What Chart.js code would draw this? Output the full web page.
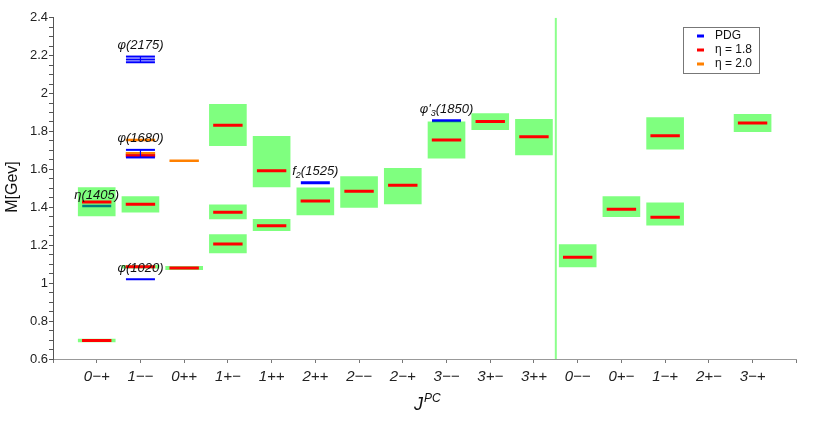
<!DOCTYPE html>
<html>
<head>
<meta charset="utf-8">
<script src="https://cdn.jsdelivr.net/npm/chart.js@4"></script>
<style>
  html, body { margin: 0; padding: 0; background: #fff; }
  #wrap { width: 814px; height: 425px; }
</style>
</head>
<body>
<div id="wrap"><canvas id="myChart"></canvas></div>
<script>
// J^PC channels, one per x position
const categories = ['0−+', '1−−', '0++', '1+−', '1++', '2++', '2−−', '2−+', '3−−', '3+−', '3++', '0−−', '0+−', '1−+', '2+−', '3−+'];
const separatorAt = 10.5;

// green uncertainty boxes (channel index, low, high)
const boxX    = [0, 0, 1, 1, 2, 3, 3, 3, 4, 4, 5, 6, 7, 8, 9, 10, 11, 12, 13, 13, 15];
const boxLow  = [1.355, 0.690, 1.374, 1.079, 1.071, 1.725, 1.339, 1.160, 1.508, 1.277, 1.360, 1.400, 1.418, 1.659, 1.809, 1.676, 1.085, 1.350, 1.706, 1.306, 1.799];
const boxHigh = [1.504, 0.705, 1.457, 1.094, 1.089, 1.943, 1.413, 1.256, 1.774, 1.336, 1.503, 1.562, 1.605, 1.851, 1.894, 1.864, 1.204, 1.456, 1.873, 1.423, 1.890];

// eta = 1.8 masses
const eta18X = [0, 0, 1, 1, 1, 2, 3, 3, 3, 4, 4, 5, 6, 7, 8, 9, 10, 11, 12, 13, 13, 15];
const eta18  = [1.428, 0.698, 1.416, 1.087, 1.672, 1.080, 1.833, 1.374, 1.207, 1.593, 1.303, 1.433, 1.485, 1.517, 1.755, 1.852, 1.772, 1.136, 1.390, 1.778, 1.348, 1.845];

// eta = 2.0 masses
const eta20X = [1, 1, 2];
const eta20  = [1.755, 1.685, 1.645];

// PDG states
const pdgX     = [0, 1, 1, 1, 5, 8];
const pdgMass  = [1.407, 1.021, 1.683, 2.180, 1.529, 1.856];
const pdgErr   = [0, 0, 0.020, 0.015, 0, 0];
const pdgNames = ['η(1405)', 'φ(1020)', 'φ(1680)', 'φ(2175)', 'f₂(1525)', "φ'₃(1850)"];

const FONT = "'Liberation Sans', Arial, sans-serif";
const BLUE = '#0000ff', RED = '#ff0000', ORANGE = '#ff8000';

const pts = (xs, ys) => xs.map((c, i) => ({x: c, y: ys[i]}));

const SUBS = '₀₁₂₃₄₅₆₇₈₉';
function richWidth(ctx, str) {
    let w = 0;
    for (const ch of str) {
        const k = SUBS.indexOf(ch);
        ctx.font = k >= 0 ? 'italic 9px ' + FONT : 'italic 13px ' + FONT;
        w += ctx.measureText(k >= 0 ? String(k) : ch).width;
    }
    return w;
}
function drawRich(ctx, str, cx, cy) {
    let px = cx - richWidth(ctx, str) / 2;
    ctx.textBaseline = 'middle';
    ctx.textAlign = 'left';
    for (const ch of str) {
        const k = SUBS.indexOf(ch);
        const t = k >= 0 ? String(k) : ch;
        ctx.font = k >= 0 ? 'italic 9px ' + FONT : 'italic 13px ' + FONT;
        ctx.fillText(t, px, k >= 0 ? cy + 4 : cy);
        px += ctx.measureText(t).width;
    }
}

const overlay = {
    id: 'overlay',
    afterDatasetsDraw(chart) {
        const {ctx, scales: {x, y}} = chart;
        ctx.save();
        // PDG error bars
        ctx.strokeStyle = BLUE;
        pdgX.forEach((c, i) => {
            const e = pdgErr[i];
            if (!e) return;
            const px = x.getPixelForValue(c);
            ctx.lineWidth = 1.2;
            ctx.beginPath();
            ctx.moveTo(px, y.getPixelForValue(pdgMass[i] - e));
            ctx.lineTo(px, y.getPixelForValue(pdgMass[i] + e));
            ctx.stroke();
            ctx.lineWidth = 2;
            [pdgMass[i] - e, pdgMass[i] + e].forEach(v => {
                const py = y.getPixelForValue(v);
                ctx.beginPath();
                ctx.moveTo(px - 14.5, py);
                ctx.lineTo(px + 14.5, py);
                ctx.stroke();
            });
        });
        // state names
        ctx.fillStyle = '#111';
        pdgX.forEach((c, i) => {
            drawRich(ctx, pdgNames[i], x.getPixelForValue(c), y.getPixelForValue(pdgMass[i] + pdgErr[i]) - 11);
        });
        ctx.restore();
    },
    afterDraw(chart) {
        const {ctx} = chart;
        ctx.save();
        // legend
        ctx.strokeStyle = '#777';
        ctx.lineWidth = 1;
        ctx.strokeRect(683.5, 27.5, 76, 46);
        const items = [['PDG', BLUE], ['η = 1.8', RED], ['η = 2.0', ORANGE]];
        ctx.font = '12px ' + FONT;
        ctx.textBaseline = 'middle';
        ctx.textAlign = 'left';
        items.forEach(([t, c], i) => {
            const ly = 36 + i * 14;
            ctx.fillStyle = c;
            ctx.fillRect(697, ly - 1.5, 7, 3);
            ctx.fillStyle = '#111';
            ctx.fillText(t, 715, ly);
        });
        // axis titles
        ctx.fillStyle = '#111';
        ctx.font = '16px ' + FONT;
        ctx.textAlign = 'center';
        ctx.translate(13, 187);
        ctx.rotate(-Math.PI / 2);
        ctx.fillText('M[Gev]', 0, 0);
        ctx.setTransform(1, 0, 0, 1, 0, 0);
        ctx.textAlign = 'left';
        ctx.textBaseline = 'alphabetic';
        ctx.font = 'italic 18px ' + FONT;
        ctx.fillText('J', 414, 410);
        ctx.font = 'italic 12px ' + FONT;
        ctx.fillText('PC', 424, 402);
        ctx.restore();
    }
};

const chart = new Chart(document.getElementById('myChart'), {
    type: 'scatter',
    data: {
        datasets: [
            {
                label: 'η = 1.8',
                data: pts(eta18X, eta18),
                pointStyle: 'line',
                pointRadius: 14.7,
                pointBorderWidth: 3,
                pointBorderColor: RED,
                order: 0
            },
            {
                label: 'η = 2.0',
                data: pts(eta20X, eta20),
                pointStyle: 'line',
                pointRadius: 14.7,
                pointBorderWidth: 2.5,
                pointBorderColor: ORANGE,
                order: 1
            },
            {
                type: 'bar',
                label: 'boxes',
                data: boxX.map((c, i) => ({x: c, y: [boxLow[i], boxHigh[i]]})),
                backgroundColor: 'rgba(0,255,0,0.5)',
                borderWidth: 0,
                barThickness: 37,
                order: 2
            },
            {
                label: 'PDG',
                data: pts(pdgX, pdgMass),
                pointStyle: 'line',
                pointRadius: 14.5,
                pointBorderWidth: [2.5, 2, 2, 2, 3, 3],
                pointBorderColor: BLUE,
                order: 3
            },
            {
                label: 'separator',
                data: [{x: separatorAt, y: 0.6}, {x: separatorAt, y: 2.4}],
                showLine: true,
                borderColor: 'rgba(0,255,0,0.45)',
                borderWidth: 2,
                pointRadius: 0,
                order: 4
            }
        ]
    },
    options: {
        responsive: true,
        maintainAspectRatio: false,
        animation: false,
        events: [],
        layout: {padding: {top: 11, right: 9, left: 0, bottom: 0}},
        plugins: {
            legend: {display: false},
            tooltip: {enabled: false}
        },
        scales: {
            x: {
                type: 'linear',
                min: -1,
                max: 16,
                offset: false,
                grid: {drawOnChartArea: false, tickLength: 4, color: '#777', offset: false},
                border: {color: '#999'},
                ticks: {
                    stepSize: 1,
                    maxTicksLimit: 100,
                    autoSkip: false,
                    maxRotation: 0,
                    padding: 5,
                    color: '#222',
                    font: {family: FONT, size: 15, style: 'italic'},
                    callback: v => categories[v] ?? ''
                },
                afterFit: s => { s.height = 66; }
            },
            y: {
                type: 'linear',
                min: 0.6,
                max: 2.4,
                grid: {drawOnChartArea: false, tickLength: 4, color: '#555'},
                border: {color: '#555'},
                ticks: {
                    stepSize: 0.05,
                    maxTicksLimit: 100,
                    autoSkip: false,
                    padding: 1,
                    color: '#222',
                    font: {family: FONT, size: 13},
                    callback: v => Math.abs(v * 5 - Math.round(v * 5)) < 1e-6 ? String(Math.round(v * 10) / 10) : ''
                },
                afterFit: s => { s.width = 53; }
            }
        }
    },
    plugins: [overlay]
});
</script>
</body>
</html>
